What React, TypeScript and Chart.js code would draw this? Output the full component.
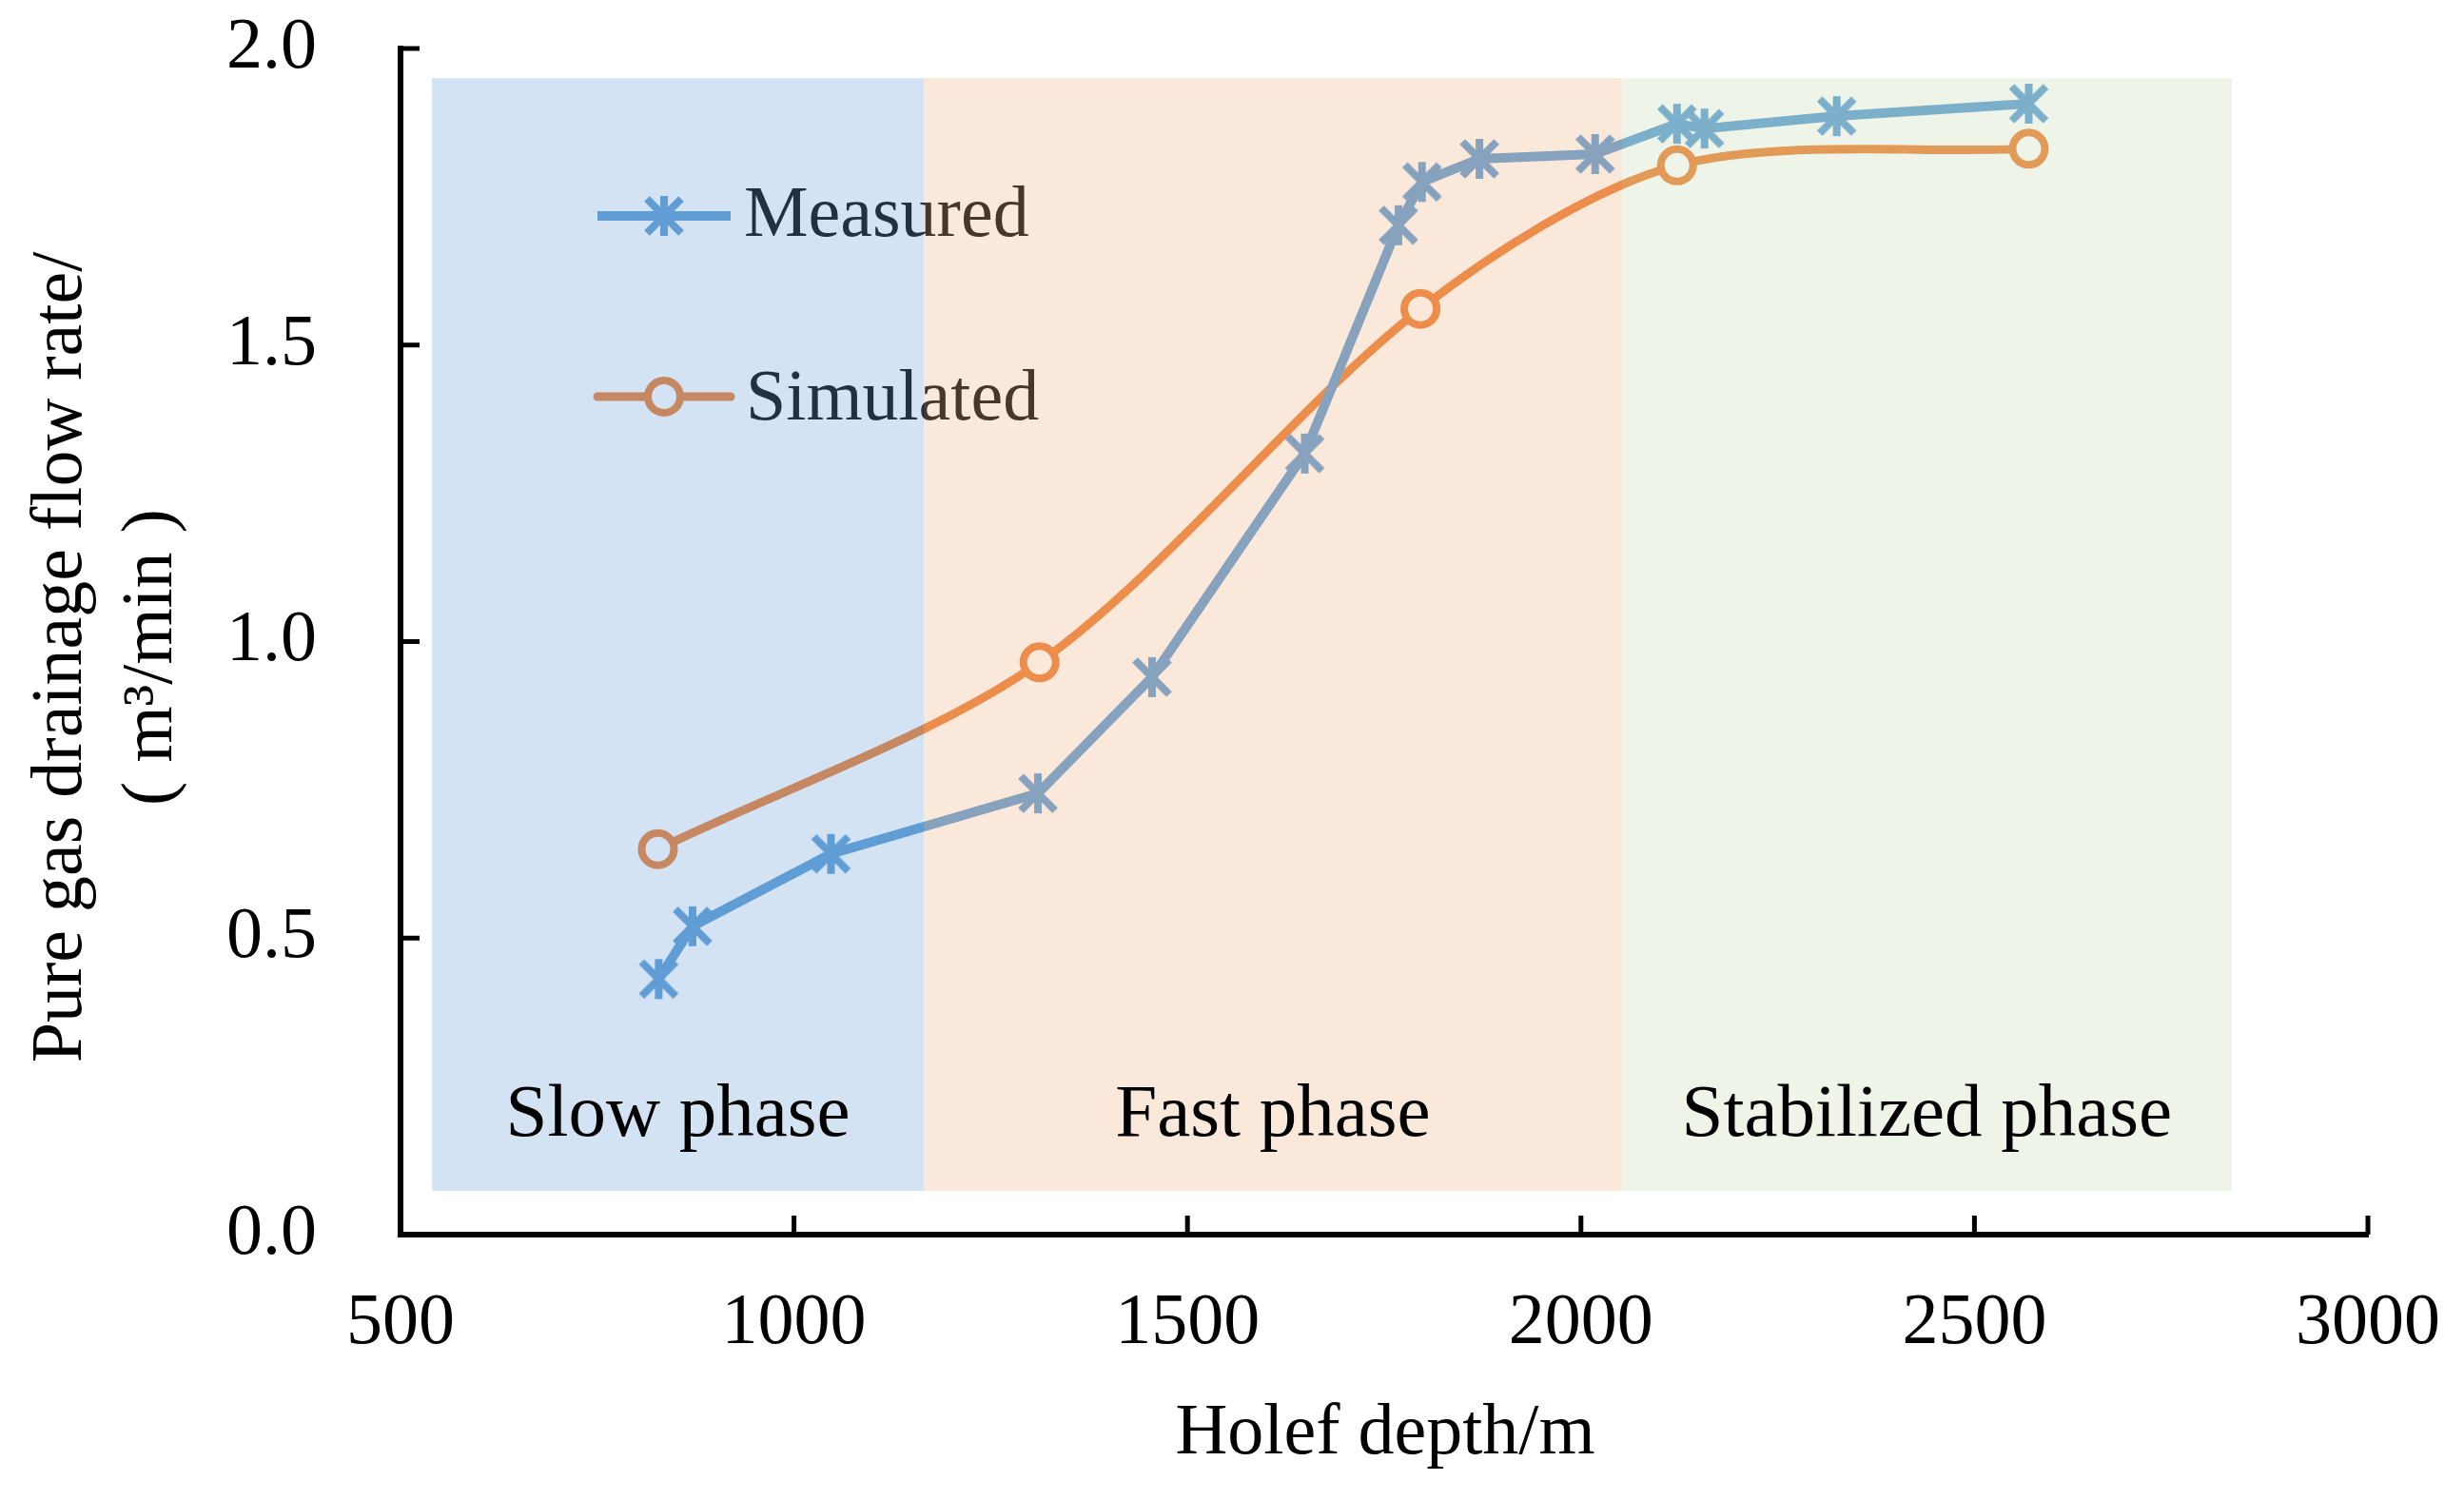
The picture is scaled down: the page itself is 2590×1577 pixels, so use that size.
import React, { useEffect, useRef } from "react";
import { Chart, registerables } from "chart.js";

Chart.register(...registerables);

const measuredDepth = [828, 871, 1047, 1310, 1455, 1649, 1768, 1798, 1871, 2018, 2122, 2157, 2325, 2569];
const measuredRate = [0.431, 0.52, 0.642, 0.744, 0.94, 1.317, 1.702, 1.775, 1.814, 1.822, 1.873, 1.865, 1.886, 1.907];
const simulatedDepth = [827, 1312, 1796, 2122, 2569];
const simulatedRate = [0.65, 0.965, 1.561, 1.803, 1.831];

const xTickValues = [500, 1000, 1500, 2000, 2500, 3000];
const yTickValues = [0, 0.5, 1.0, 1.5, 2.0];

const phaseNames = ["Slow phase", "Fast phase", "Stabilized phase"];
const phaseFrom = [540, 1165, 2052];
const phaseTo = [1165, 2052, 2827];
const phaseTop = 1.95;
const phaseBottom = 0.074;
const phaseLabelAt = 0.167;

const BLUE = "#5B9BD5";
const ORANGE = "#ED7D31";
// bands are laid over the lines, so they tint whatever sits under them
const phaseColors = ["rgba(108,162,215,0.3)", "rgba(238,178,135,0.3)", "rgba(198,222,178,0.3)"];
const FONT = "'Liberation Serif', 'Times New Roman', serif";

const makeStar = (color: string) => {
  const c = document.createElement("canvas");
  c.width = 52;
  c.height = 52;
  const g = c.getContext("2d")!;
  g.strokeStyle = color;
  g.lineWidth = 8;
  g.lineCap = "butt";
  g.beginPath();
  g.moveTo(26 - 18, 26 - 18);
  g.lineTo(26 + 18, 26 + 18);
  g.moveTo(26 + 18, 26 - 18);
  g.lineTo(26 - 18, 26 + 18);
  g.moveTo(26, 26 - 21);
  g.lineTo(26, 26 + 21);
  g.stroke();
  return c;
};

const phasePlugin = {
  id: "phasePlugin",
  afterDatasetsDraw(chart: any) {
    const { ctx, scales } = chart;
    const x = scales.x;
    const y = scales.y;
    ctx.save();

    // legend (under the bands)
    ctx.lineCap = "butt";
    ctx.strokeStyle = BLUE;
    ctx.lineWidth = 10;
    ctx.beginPath();
    ctx.moveTo(628, 227);
    ctx.lineTo(768, 227);
    ctx.stroke();
    ctx.drawImage(makeStar(BLUE), 698 - 26, 227 - 26);

    ctx.strokeStyle = ORANGE;
    ctx.lineWidth = 9;
    ctx.lineCap = "round";
    ctx.beginPath();
    ctx.moveTo(628, 417);
    ctx.lineTo(768, 417);
    ctx.stroke();
    ctx.beginPath();
    ctx.arc(698, 417, 17, 0, Math.PI * 2);
    ctx.fillStyle = "#fff";
    ctx.fill();
    ctx.lineWidth = 8;
    ctx.stroke();

    ctx.fillStyle = "#000";
    ctx.font = `76px ${FONT}`;
    ctx.textAlign = "left";
    ctx.textBaseline = "alphabetic";
    ctx.fillText("Measured", 782, 248);
    ctx.fillText("Simulated", 784, 441);

    // phase bands
    phaseFrom.forEach((from, i) => {
      const l = x.getPixelForValue(from);
      const r = x.getPixelForValue(phaseTo[i]);
      const t = y.getPixelForValue(phaseTop);
      const b = y.getPixelForValue(phaseBottom);
      ctx.fillStyle = phaseColors[i];
      ctx.fillRect(l, t, r - l, b - t);
    });

    ctx.fillStyle = "#000";
    ctx.font = `79px ${FONT}`;
    ctx.textAlign = "center";
    phaseNames.forEach((name, i) => {
      const cx = x.getPixelForValue((phaseFrom[i] + phaseTo[i]) / 2);
      ctx.fillText(name, cx, y.getPixelForValue(phaseLabelAt));
    });
    ctx.restore();
  },
  afterDraw(chart: any) {
    const { ctx, chartArea, scales } = chart;
    const x = scales.x;
    const y = scales.y;
    ctx.save();

    // inward tick marks
    ctx.strokeStyle = "#000";
    ctx.lineWidth = 5;
    ctx.beginPath();
    yTickValues.slice(1).forEach((v) => {
      const py = y.getPixelForValue(v);
      ctx.moveTo(chartArea.left, py);
      ctx.lineTo(chartArea.left + 20, py);
    });
    xTickValues.slice(1).forEach((v) => {
      const px = x.getPixelForValue(v);
      ctx.moveTo(px, chartArea.bottom);
      ctx.lineTo(px, chartArea.bottom - 20);
    });
    ctx.stroke();

    // axis titles
    ctx.fillStyle = "#000";
    ctx.font = `76px ${FONT}`;
    ctx.textAlign = "center";
    ctx.textBaseline = "alphabetic";
    ctx.fillText("Holef depth/m", 1456, 1528);

    ctx.translate(85, 691);
    ctx.rotate(-Math.PI / 2);
    ctx.fillText("Pure gas drainage flow rate/", 0, 0);

    // second line, brackets set a little apart like full-width ones
    const unit = "m³/min";
    const gap = 20;
    const wOpen = ctx.measureText("(").width;
    const wUnit = ctx.measureText(unit).width;
    const wClose = ctx.measureText(")").width;
    let cursor = -(wOpen + wUnit + wClose + 2 * gap) / 2;
    ctx.textAlign = "left";
    ctx.fillText("(", cursor, 95);
    cursor += wOpen + gap;
    ctx.fillText(unit, cursor, 95);
    cursor += wUnit + gap;
    ctx.fillText(")", cursor, 95);
    ctx.restore();
  },
};

const DrainageChart: React.FC = () => {
  const chartRef = useRef<HTMLCanvasElement | null>(null);

  useEffect(() => {
    if (!chartRef.current) return;
    const ctx = chartRef.current.getContext("2d");
    if (!ctx) return;

    const tickFont = { family: FONT, size: 76 };

    const chart = new Chart(ctx, {
      type: "line",
      data: {
        datasets: [
          {
            label: "Measured",
            data: measuredDepth.map((d, i) => ({ x: d, y: measuredRate[i] })),
            borderColor: BLUE,
            borderWidth: 10,
            pointStyle: makeStar(BLUE),
            pointRadius: 22,
            tension: 0,
            fill: false,
          },
          {
            label: "Simulated",
            data: simulatedDepth.map((d, i) => ({ x: d, y: simulatedRate[i] })),
            borderColor: ORANGE,
            borderWidth: 9,
            pointStyle: "circle",
            pointRadius: 17,
            pointBorderWidth: 8,
            pointBorderColor: ORANGE,
            pointBackgroundColor: "#fff",
            tension: 0.3,
            fill: false,
          },
        ],
      },
      options: {
        responsive: false,
        animation: false,
        devicePixelRatio: 1,
        layout: { padding: { top: 51, right: 101, left: 0, bottom: 0 } },
        plugins: {
          legend: { display: false },
          tooltip: { enabled: false },
        },
        scales: {
          x: {
            type: "linear",
            min: 500,
            max: 3000,
            afterBuildTicks: (s: any) => {
              s.ticks = xTickValues.map((v) => ({ value: v }));
            },
            afterFit: (s: any) => {
              s.height = 279;
              s.paddingLeft = 0;
              s.paddingRight = 0;
            },
            grid: { drawOnChartArea: false, drawTicks: false, color: "transparent" },
            border: { display: true, color: "#000", width: 6 },
            ticks: {
              padding: 48,
              color: "#000",
              font: tickFont,
              maxRotation: 0,
              callback: (v: any) => String(v),
            },
          },
          y: {
            type: "linear",
            min: 0,
            max: 2,
            afterBuildTicks: (s: any) => {
              s.ticks = yTickValues.map((v) => ({ value: v }));
            },
            afterFit: (s: any) => {
              s.width = 421;
              s.paddingTop = 0;
              s.paddingBottom = 0;
            },
            grid: { drawOnChartArea: false, drawTicks: false, color: "transparent" },
            border: { display: true, color: "#000", width: 6 },
            ticks: {
              padding: 88,
              color: "#000",
              font: tickFont,
              callback: (v: any) => Number(v).toFixed(1),
            },
          },
        },
      },
      plugins: [phasePlugin],
    });

    return () => {
      chart.destroy();
    };
  }, []);

  return (
    <div
      style={{
        position: "absolute",
        left: 0,
        top: 0,
        width: 2590,
        height: 1577,
        background: "#fff",
      }}
    >
      <canvas ref={chartRef} width={2590} height={1577} />
    </div>
  );
};

export default DrainageChart;
